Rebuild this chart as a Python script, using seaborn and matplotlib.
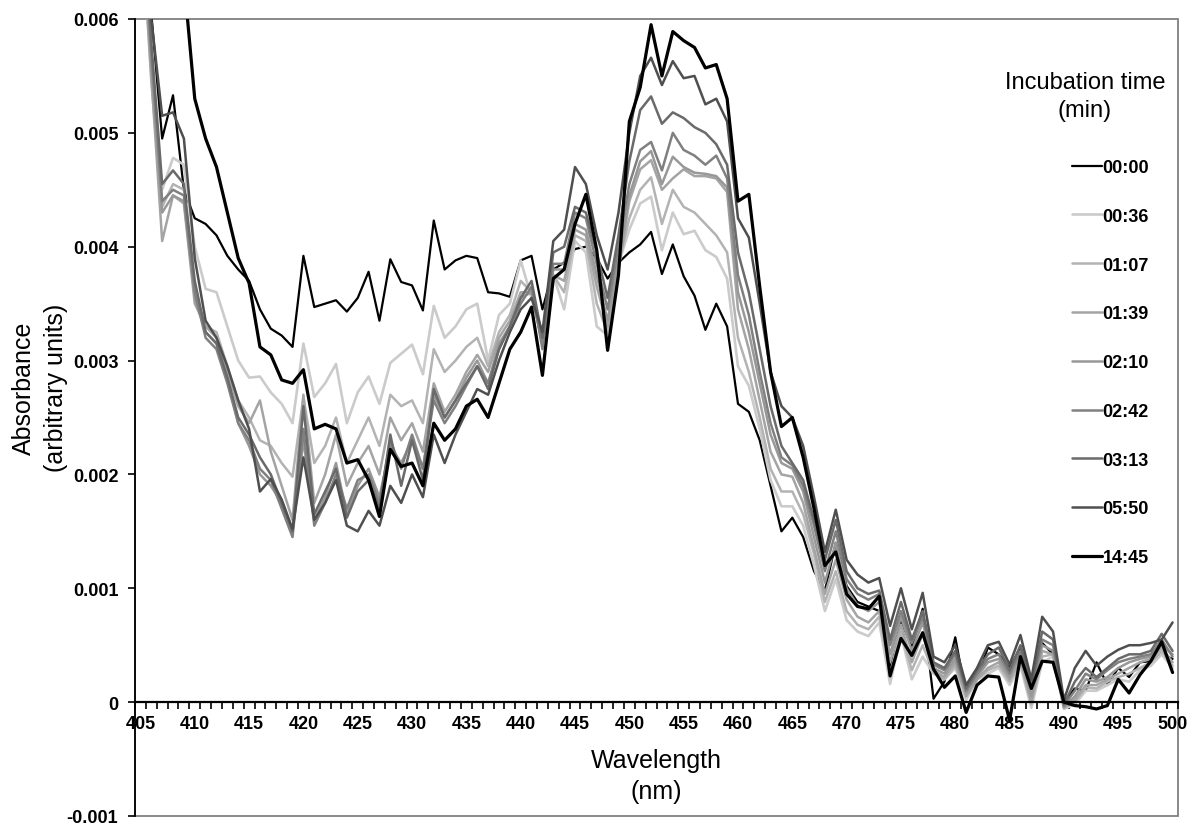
import numpy as np
import pandas as pd
import matplotlib
matplotlib.use("Agg")
import matplotlib.pyplot as plt
from matplotlib.patches import Rectangle
import seaborn as sns

# ---------------- data (absorbance in units of 0.001) ----------------
wavelength = list(range(405, 501))

t_0000 = [7.30, 6.05, 4.95, 5.33, 4.50, 4.25, 4.20, 4.10, 3.92, 3.80,
          3.70, 3.45, 3.28, 3.22, 3.12, 3.92, 3.47, 3.50, 3.53, 3.43,
          3.55, 3.78, 3.35, 3.89, 3.69, 3.66, 3.44, 4.23, 3.80, 3.88,
          3.92, 3.90, 3.60, 3.59, 3.56, 3.88, 3.92, 3.45, 3.80, 3.86,
          3.98, 4.00, 3.90, 3.72, 3.86, 3.95, 4.02, 4.13, 3.76, 4.02,
          3.74, 3.57, 3.27, 3.50, 3.30, 2.62, 2.55, 2.30, 1.90, 1.50,
          1.62, 1.45, 1.15, 0.98, 1.40, 1.02, 0.88, 0.84, 0.80, 0.32,
          0.72, 0.48, 0.82, 0.03, 0.18, 0.57, 0.05, 0.20, 0.48, 0.42,
          0.30, 0.48, 0.18, 0.52, 0.42, 0.00, 0.12, 0.10, 0.35, 0.15,
          0.30, 0.22, 0.35, 0.36, 0.42, 0.38]
t_0036 = [7.10, 5.60, 4.50, 4.78, 4.72, 4.00, 3.63, 3.60, 3.30, 3.00,
          2.85, 2.86, 2.72, 2.62, 2.45, 3.15, 2.68, 2.80, 2.97, 2.45,
          2.72, 2.86, 2.62, 2.98, 3.06, 3.14, 2.88, 3.48, 3.20, 3.30,
          3.45, 3.50, 3.00, 3.40, 3.50, 3.88, 3.55, 3.20, 3.75, 3.45,
          4.05, 3.95, 3.30, 3.22, 3.85, 4.15, 4.38, 4.44, 3.97, 4.30,
          4.11, 4.14, 3.97, 3.91, 3.72, 2.95, 2.78, 2.40, 1.95, 1.72,
          1.72, 1.55, 1.20, 0.80, 1.08, 0.72, 0.62, 0.58, 0.70, 0.16,
          0.60, 0.20, 0.40, 0.25, 0.20, 0.30, 0.02, 0.20, 0.25, 0.30,
          0.15, 0.32, -0.05, 0.35, 0.40, -0.06, -0.02, 0.10, 0.10, 0.15,
          0.20, 0.18, 0.28, 0.32, 0.42, 0.30]
t_0107 = [7.00, 5.45, 4.35, 4.55, 4.50, 3.60, 3.30, 3.25, 2.95, 2.65,
          2.50, 2.30, 2.25, 2.10, 1.98, 2.68, 2.10, 2.25, 2.50, 2.10,
          2.30, 2.50, 2.25, 2.70, 2.60, 2.65, 2.45, 3.10, 2.90, 3.00,
          3.12, 3.20, 2.95, 3.25, 3.40, 3.70, 3.60, 3.15, 3.75, 3.60,
          4.10, 4.05, 3.50, 3.25, 3.85, 4.25, 4.50, 4.61, 4.20, 4.50,
          4.35, 4.30, 4.20, 4.10, 3.95, 3.20, 2.90, 2.50, 2.05, 1.85,
          1.85, 1.65, 1.30, 0.88, 1.15, 0.80, 0.68, 0.64, 0.75, 0.25,
          0.62, 0.28, 0.50, 0.26, 0.20, 0.32, 0.06, 0.20, 0.28, 0.32,
          0.18, 0.35, -0.02, 0.40, 0.42, -0.05, 0.00, 0.13, 0.12, 0.18,
          0.22, 0.25, 0.30, 0.35, 0.45, 0.32]
t_0139 = [7.00, 5.50, 4.05, 4.45, 4.38, 3.50, 3.30, 3.20, 2.90, 2.60,
          2.45, 2.65, 2.20, 1.90, 1.60, 2.70, 1.75, 2.00, 2.35, 1.90,
          2.10, 2.25, 2.00, 2.50, 2.30, 2.45, 2.20, 2.80, 2.55, 2.70,
          2.90, 3.05, 2.90, 3.20, 3.35, 3.60, 3.60, 3.15, 3.75, 3.70,
          4.15, 4.10, 3.65, 3.30, 3.80, 4.40, 4.68, 4.76, 4.50, 4.60,
          4.68, 4.62, 4.62, 4.60, 4.48, 3.45, 3.10, 2.65, 2.20, 2.00,
          1.98, 1.75, 1.35, 0.95, 1.25, 0.90, 0.75, 0.70, 0.80, 0.35,
          0.68, 0.35, 0.60, 0.28, 0.22, 0.35, 0.05, 0.20, 0.30, 0.35,
          0.20, 0.38, 0.00, 0.45, 0.42, -0.05, 0.02, 0.15, 0.15, 0.20,
          0.25, 0.30, 0.35, 0.38, 0.48, 0.35]
t_0210 = [7.10, 5.60, 4.30, 4.45, 4.40, 3.55, 3.25, 3.15, 2.85, 2.45,
          2.25, 2.00, 1.90, 1.75, 1.50, 2.30, 1.60, 1.80, 2.10, 1.65,
          1.90, 2.05, 1.80, 2.25, 2.10, 2.30, 2.05, 2.70, 2.50, 2.65,
          2.85, 3.00, 2.80, 3.15, 3.30, 3.55, 3.60, 3.15, 3.80, 3.80,
          4.20, 4.15, 3.75, 3.35, 3.90, 4.45, 4.75, 4.84, 4.55, 4.79,
          4.70, 4.65, 4.64, 4.62, 4.52, 3.60, 3.25, 2.80, 2.35, 2.10,
          2.05, 1.85, 1.45, 1.05, 1.40, 1.00, 0.85, 0.80, 0.88, 0.42,
          0.75, 0.45, 0.70, 0.30, 0.25, 0.38, 0.08, 0.22, 0.35, 0.38,
          0.22, 0.42, 0.05, 0.50, 0.45, -0.04, 0.05, 0.20, 0.18, 0.22,
          0.30, 0.35, 0.38, 0.40, 0.50, 0.42]
t_0242 = [7.20, 5.70, 4.40, 4.50, 4.45, 3.60, 3.20, 3.10, 2.80, 2.45,
          2.30, 2.05, 1.95, 1.70, 1.45, 2.40, 1.55, 1.75, 2.00, 1.70,
          1.95, 2.00, 1.75, 2.30, 2.05, 2.35, 2.05, 2.65, 2.45, 2.60,
          2.78, 2.95, 2.80, 3.10, 3.30, 3.50, 3.65, 3.10, 3.85, 3.85,
          4.30, 4.25, 3.85, 3.45, 4.00, 4.55, 4.85, 4.92, 4.67, 5.00,
          4.85, 4.80, 4.72, 4.80, 4.60, 3.75, 3.40, 2.90, 2.45, 2.15,
          2.08, 1.90, 1.55, 1.15, 1.50, 1.08, 0.95, 0.90, 0.95, 0.50,
          0.80, 0.52, 0.75, 0.33, 0.28, 0.42, 0.10, 0.25, 0.38, 0.42,
          0.25, 0.45, 0.12, 0.55, 0.50, -0.03, 0.10, 0.25, 0.20, 0.28,
          0.35, 0.38, 0.40, 0.42, 0.55, 0.40]
t_0313 = [7.30, 5.80, 4.55, 4.67, 4.55, 3.70, 3.25, 3.15, 2.85, 2.50,
          2.35, 2.15, 2.00, 1.75, 1.50, 2.60, 1.65, 1.85, 2.05, 1.62,
          1.85, 1.95, 1.70, 2.35, 1.90, 2.30, 1.95, 2.75, 2.50, 2.65,
          2.80, 2.95, 2.75, 3.10, 3.30, 3.55, 3.70, 3.20, 3.95, 4.00,
          4.35, 4.30, 3.95, 3.55, 4.10, 4.75, 5.20, 5.32, 5.08, 5.18,
          5.13, 5.05, 5.00, 4.90, 4.72, 3.95, 3.60, 3.10, 2.60, 2.25,
          2.10, 1.95, 1.60, 1.25, 1.60, 1.15, 1.00, 0.95, 0.98, 0.55,
          0.88, 0.55, 0.80, 0.35, 0.30, 0.45, 0.12, 0.28, 0.42, 0.48,
          0.28, 0.50, 0.15, 0.62, 0.55, -0.02, 0.18, 0.30, 0.22, 0.30,
          0.38, 0.42, 0.42, 0.45, 0.60, 0.45]
t_0550 = [7.40, 6.00, 5.15, 5.18, 4.95, 3.90, 3.35, 3.20, 2.95, 2.65,
          2.40, 1.85, 1.96, 1.78, 1.52, 2.15, 1.60, 1.75, 1.95, 1.55,
          1.50, 1.68, 1.55, 1.90, 1.75, 2.00, 1.80, 2.35, 2.10, 2.35,
          2.55, 2.75, 2.70, 3.00, 3.25, 3.45, 3.55, 3.25, 4.05, 4.15,
          4.70, 4.55, 4.10, 3.80, 4.30, 5.00, 5.50, 5.66, 5.42, 5.63,
          5.48, 5.50, 5.25, 5.30, 5.10, 4.25, 4.08, 3.50, 2.90, 2.60,
          2.50, 2.25, 1.80, 1.32, 1.69, 1.25, 1.12, 1.05, 1.09, 0.67,
          1.00, 0.64, 0.96, 0.40, 0.35, 0.50, 0.15, 0.30, 0.50, 0.53,
          0.33, 0.59, 0.20, 0.75, 0.62, 0.02, 0.30, 0.45, 0.32, 0.40,
          0.46, 0.50, 0.50, 0.52, 0.55, 0.70]
t_1445 = [7.60, 7.40, 7.10, 6.80, 6.35, 5.30, 4.95, 4.70, 4.30, 3.90,
          3.68, 3.12, 3.05, 2.83, 2.80, 2.92, 2.40, 2.44, 2.40, 2.10,
          2.13, 1.95, 1.63, 2.22, 2.07, 2.10, 1.90, 2.45, 2.30, 2.40,
          2.60, 2.66, 2.50, 2.80, 3.10, 3.25, 3.47, 2.87, 3.72, 3.80,
          4.20, 4.46, 3.97, 3.09, 3.75, 5.10, 5.40, 5.95, 5.50, 5.89,
          5.81, 5.75, 5.57, 5.60, 5.30, 4.40, 4.46, 3.65, 2.90, 2.42,
          2.50, 2.15, 1.70, 1.20, 1.32, 0.95, 0.84, 0.82, 0.93, 0.23,
          0.56, 0.41, 0.61, 0.29, 0.13, 0.23, -0.09, 0.15, 0.23, 0.22,
          -0.16, 0.40, 0.12, 0.36, 0.35, 0.00, -0.03, -0.04, -0.06, -0.03,
          0.20, 0.08, 0.24, 0.36, 0.53, 0.26]

series_labels = ["00:00", "00:36", "01:07", "01:39", "02:10",
                 "02:42", "03:13", "05:50", "14:45"]
series_values = [t_0000, t_0036, t_0107, t_0139, t_0210,
                 t_0242, t_0313, t_0550, t_1445]
series_colors = ["#000000", "#cbcbcb", "#b3b3b3", "#a4a4a4", "#989898",
                 "#808080", "#6a6a6a", "#4f4f4f", "#000000"]
series_widths = [1.6, 1.9, 1.8, 1.8, 1.8, 1.8, 1.8, 1.8, 2.3]

y_ticks = [-0.001, 0.0, 0.001, 0.002, 0.003, 0.004, 0.005, 0.006]
y_tick_labels = ["-0.001", "0", "0.001", "0.002", "0.003", "0.004", "0.005", "0.006"]
x_ticks = list(range(405, 501, 5))

# ---------------- build long table ----------------
rows = []
for lab, vals in zip(series_labels, series_values):
    for w, v in zip(wavelength, vals):
        rows.append({"Wavelength": w, "Absorbance": v / 1000.0, "Time": lab})
df = pd.DataFrame(rows)

sns.set_style("white")
plt.rcParams["font.family"] = ["Liberation Sans", "DejaVu Sans"]
plt.rcParams["text.color"] = "black"
plt.rcParams["axes.labelcolor"] = "black"

fig = plt.figure(figsize=(11.94, 8.28), dpi=100)
ax = fig.add_axes([135 / 1194, 11 / 828, 1043 / 1194, 797 / 828])

for lab, col, lw in zip(series_labels, series_colors, series_widths):
    sns.lineplot(data=df[df["Time"] == lab], x="Wavelength", y="Absorbance",
                 color=col, linewidth=lw, ax=ax, label=lab,
                 solid_joinstyle="round", solid_capstyle="round")

ax.set_xlim(404.5, 500.5)
ax.set_ylim(-0.001, 0.006)

# frame of plot area
ax.add_patch(Rectangle((0, 0), 1, 1, transform=ax.transAxes, fill=False,
                       edgecolor="#7f7f7f", linewidth=1.3, clip_on=False, zorder=0.5))
for s in ["top", "right"]:
    ax.spines[s].set_visible(False)
ax.spines["left"].set_color("black")
ax.spines["left"].set_linewidth(1.3)
ax.spines["bottom"].set_position(("data", 0))
ax.spines["bottom"].set_color("black")
ax.spines["bottom"].set_linewidth(1.6)

ax.set_yticks(y_ticks)
ax.set_yticklabels(y_tick_labels, fontweight="bold", fontsize=13)
ax.tick_params(axis="y", which="major", left=True, direction="out", length=5,
               width=1.2, pad=7, colors="black")

ax.set_xticks(x_ticks)
ax.set_xticklabels([str(t) for t in x_ticks], fontweight="bold", fontsize=13)
ax.set_xticks(np.arange(404.5, 501, 1.0), minor=True)
ax.tick_params(axis="x", which="major", bottom=True, length=0, pad=9, colors="black")
ax.tick_params(axis="x", which="minor", bottom=True, direction="out", length=5,
               width=1.2, colors="black")

ax.set_xlabel("Wavelength\n(nm)", fontsize=18, linespacing=1.4, color="black")
ax.xaxis.set_label_coords(0.5, 0.051)
ax.xaxis.label.set_va("center")
ax.set_ylabel("")
fig.text(40 / 1194, 1 - 388 / 828, "Absorbance\n(arbitrary units)", rotation=90,
         fontsize=18, ha="center", va="center", linespacing=1.4, color="black")

# legend
fig.text(1085 / 1194, 1 - 97 / 828, "Incubation time\n(min)", fontsize=17,
         ha="center", va="center", linespacing=1.4, color="black")
leg = ax.legend(loc="upper left", bbox_to_anchor=(1072 / 1194, 1 - 160 / 828),
                bbox_transform=fig.transFigure, frameon=False, borderpad=0,
                borderaxespad=0, handlelength=1.65, handletextpad=0.05,
                labelspacing=1.76, prop={"weight": "bold", "size": 13})
for t in leg.get_texts():
    t.set_color("black")

fig.savefig("out.png", dpi=100)
